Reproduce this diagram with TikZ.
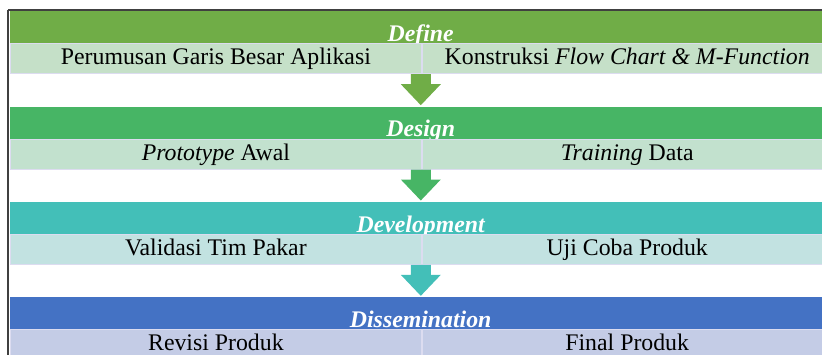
\documentclass[tikz,border=0pt]{standalone}
\usepackage{fontspec}
\setmainfont{Liberation Serif}
\usetikzlibrary{
	positioning		% relative placement
	, calc			% coordinate arithmetic for the block arrows
}

\definecolor{defineHead}{HTML}{70AD47}
\definecolor{defineCell}{HTML}{C5E0C8}
\definecolor{designHead}{HTML}{47B565}
\definecolor{designCell}{HTML}{C2E1CE}
\definecolor{developHead}{HTML}{43BFB8}
\definecolor{developCell}{HTML}{C2E2E1}
\definecolor{dissemHead}{HTML}{4472C4}
\definecolor{dissemCell}{HTML}{C4CCE6}
\definecolor{frameGray}{HTML}{404040}
\definecolor{cellLine}{HTML}{DCDCF0}

\begin{document}
\begin{tikzpicture}[
				x=1pt, y=1pt,
				phase/.style={
					rectangle,
					inner sep=0,
					minimum width=821pt,
					minimum height=32pt,
					anchor=north west
				},
				phaselabel/.style={
					text=white,
					inner sep=0,
					anchor=base,
					font=\fontsize{23.8}{28}\selectfont\bfseries\itshape
				},
				cell/.style={
					rectangle,
					inner sep=0,
					minimum width=411pt,
					minimum height=30pt,
					anchor=north west,
					draw=cellLine, line width=0.8pt
				},
				celltext/.style={
					inner sep=0,
					anchor=base,
					font=\fontsize{23.8}{28}\selectfont
				},
				frameline/.style={
					draw=frameGray,
					line width=1.8pt
				}]

			\useasboundingbox (0,0) rectangle (822,-354);
			\clip (0,0) rectangle (822,-354);

			%%% One band per phase: header bar, two cells, block arrow down
			\foreach [count=\i from 0] \phase/\head/\cellcol/\lefttext/\righttext in {
					Define/defineHead/defineCell/{Perumusan Garis Besar Aplikasi}/{Konstruksi \textit{Flow Chart \& M-Function}},
					Design/designHead/designCell/{\textit{Prototype} Awal}/{\textit{Training} Data},
					Development/developHead/developCell/{Validasi Tim Pakar}/{Uji Coba Produk},
					Dissemination/dissemHead/dissemCell/{Revisi Produk}/{Final Produk}} {
				\pgfmathsetmacro\rowtop{-11-95.3*\i}
				% Header bar and its title
				\node [phase, fill=\head] (head\i) at (10,\rowtop) {};
				\node [phaselabel] (label\i) at ($(head\i.south)+(0,2)$) {\phase};
				% The two cells below it
				\node [cell, fill=\cellcol] (left\i) at (head\i.south west) {};
				\node [cell, fill=\cellcol, minimum width=410pt] (right\i) at (left\i.north east) {};
				\node [celltext] (lefttext\i) at ($(left\i.north)+(0,-21.5)$) {\lefttext};
				\node [celltext] (righttext\i) at ($(right\i.north)+(0,-21.5)$) {\righttext};
				% Block arrow to the next phase
				\ifnum\i<3
					\fill [\head] ($(left\i.south east)+(-11,0)$) -- ++(20,0) -- ++(0,-10) -- ++(10,0)
						-- ++(-20,-21) -- ++(-20,21) -- ++(10,0) -- cycle;
				\fi
			};

			%%% Outer frame (left and top edges show)
			\draw [frameline] (8,-10) -- (840,-10);
			\draw [frameline] (8,-10) -- (8,-400);

		\end{tikzpicture}
\end{document}
